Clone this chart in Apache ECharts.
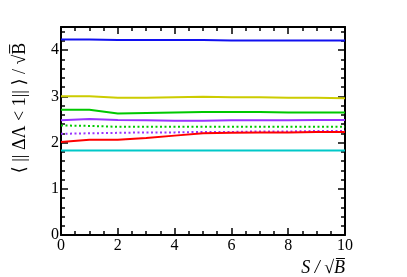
<!DOCTYPE html>
<html><head><meta charset="utf-8">
<script src="https://cdn.jsdelivr.net/npm/echarts@6/dist/echarts.min.js"></script>
<style>html,body{margin:0;padding:0;background:#fff}#c{width:407px;height:277px}</style>
</head><body><div id="c"></div>
<script>
const xValues = [0, 1, 2, 3, 4, 5, 6, 7, 8, 9, 10];
const blue = [4.23, 4.23, 4.22, 4.22, 4.22, 4.22, 4.21, 4.21, 4.21, 4.21, 4.21];
const yellow = [3.00, 3.00, 2.97, 2.97, 2.98, 2.99, 2.98, 2.98, 2.97, 2.97, 2.96];
const greenSolid = [2.71, 2.71, 2.63, 2.64, 2.65, 2.66, 2.66, 2.66, 2.65, 2.65, 2.65];
const purpleSolid = [2.48, 2.51, 2.49, 2.48, 2.47, 2.47, 2.48, 2.48, 2.48, 2.49, 2.49];
const greenDotted = [2.37, 2.36, 2.34, 2.34, 2.34, 2.34, 2.34, 2.34, 2.34, 2.34, 2.34];
const purpleDotted = [2.19, 2.20, 2.21, 2.22, 2.22, 2.23, 2.23, 2.24, 2.24, 2.25, 2.25];
const red = [2.01, 2.06, 2.06, 2.10, 2.15, 2.20, 2.21, 2.22, 2.22, 2.23, 2.23];
const cyan = [1.83, 1.83, 1.83, 1.83, 1.83, 1.83, 1.83, 1.83, 1.83, 1.83, 1.83];
const xTicks = [0, 2, 4, 6, 8, 10];
const yTicks = [0, 1, 2, 3, 4];
const xTitle = 'S / √B̅';
const yTitle = '⟨ || ΔΛ < 1|| ⟩ / √B̅';

const F = '"Liberation Serif", "DejaVu Serif", serif';
function mk(name, data, color, dotted) {
  return {
    name, type: 'line', data: xValues.map((x, i) => [x, data[i]]),
    showSymbol: false, smooth: false,
    lineStyle: { color, width: 2, type: dotted ? [2, 2.5] : 'solid' }, z: 3
  };
}
const axisCommon = {
  axisLine: { show: true, onZero: false, lineStyle: { color: '#000', width: 2 } },
  axisTick: { show: true, inside: true, length: 7, lineStyle: { color: '#000', width: 1.5 } },
  minorTick: { show: true, length: 4, lineStyle: { color: '#000', width: 1.5 } },
  splitLine: { show: false }
};
const chart = echarts.init(document.getElementById('c'));
chart.setOption({
  animation: false,
  grid: { left: 61, right: 62, top: 27, bottom: 42 },
  graphic: [{
    type: 'text', x: 20, y: 108, rotation: Math.PI / 2,
    style: { text: yTitle, font: '18px ' + F, fill: '#000', align: 'center', verticalAlign: 'middle' }
  }],
  xAxis: [
    Object.assign({}, axisCommon, {
      type: 'value', min: 0, max: 10, interval: 2, position: 'bottom',
      minorTick: Object.assign({}, axisCommon.minorTick, { splitNumber: 4 }),
      axisLabel: { color: '#000', fontFamily: F, fontSize: 16, margin: 3,
        formatter: v => xTicks.includes(v) ? String(v) : '' },
      name: xTitle, nameLocation: 'end', nameGap: 0,
      nameTextStyle: { color: '#000', fontFamily: F, fontSize: 18, fontStyle: 'italic',
        align: 'right', verticalAlign: 'top', padding: [24, 0, 0, 0] }
    }),
    Object.assign({}, axisCommon, {
      type: 'value', min: 0, max: 10, interval: 2, position: 'top',
      minorTick: Object.assign({}, axisCommon.minorTick, { splitNumber: 4 }),
      axisLabel: { show: false }
    })
  ],
  yAxis: [
    Object.assign({}, axisCommon, {
      type: 'value', min: 0, max: 4.5, interval: 1, position: 'left',
      minorTick: Object.assign({}, axisCommon.minorTick, { splitNumber: 5 }),
      axisLabel: { color: '#000', fontFamily: F, fontSize: 16, margin: 2,
        formatter: v => yTicks.includes(v) ? String(v) : '' }
    }),
    Object.assign({}, axisCommon, {
      type: 'value', min: 0, max: 4.5, interval: 1, position: 'right',
      minorTick: Object.assign({}, axisCommon.minorTick, { splitNumber: 5 }),
      axisLabel: { show: false }
    })
  ],
  series: [
    mk('blue', blue, '#1010f0'),
    mk('yellow', yellow, '#cccc00'),
    mk('greenSolid', greenSolid, '#00c800'),
    mk('purpleSolid', purpleSolid, '#9933ff'),
    mk('greenDotted', greenDotted, '#00c800', true),
    mk('purpleDotted', purpleDotted, '#9933ff', true),
    mk('red', red, '#ff0000'),
    mk('cyan', cyan, '#00c8c8')
  ]
});
</script></body></html>
